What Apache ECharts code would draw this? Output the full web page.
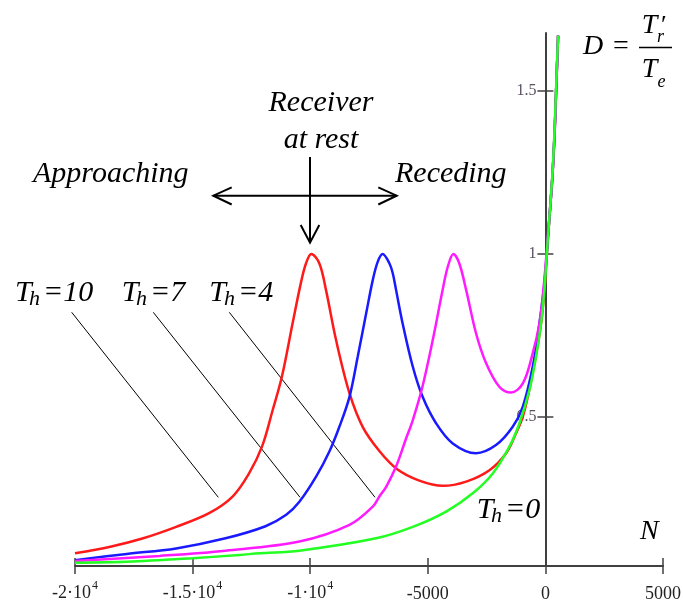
<!DOCTYPE html>
<html>
<head>
<meta charset="utf-8">
<script src="https://cdn.jsdelivr.net/npm/echarts@6.0.0/dist/echarts.min.js"></script>
<style>
html,body{margin:0;padding:0;background:#fff;}
#chart{width:683px;height:603px;}
</style>
</head>
<body>
<div id="chart"></div>
<script>
// ---- data ----
const xTickValues = [-20000, -15000, -10000, -5000, 0, 5000];
const xTickMantissa = ['-2\u00b710', '-1.5\u00b710', '-1\u00b710', '-5000', '0', '5000'];
const xTickExponent = ['4', '4', '4', '', '', ''];
const yTickValues = [0.5, 1, 1.5];

// Th = 10 (red)
const redN = [-20000,-18500,-17100,-15700,-14300,-13300,-12600,-12050,-11600,-11200,-10750,-10400,-10180,-9950,-9610,-9330,-8900,-8330,-7770,-7060,-6300,-5360,-4370,-3370,-2380,-1670,-1250,-960,-680,-400,-180,-40,100,290,390,460,540];
const redD = [0.082,0.102,0.128,0.163,0.205,0.256,0.327,0.409,0.520,0.625,0.787,0.910,0.971,1.000,0.971,0.890,0.736,0.573,0.470,0.396,0.340,0.305,0.289,0.302,0.337,0.389,0.450,0.501,0.585,0.690,0.790,0.890,1.040,1.230,1.370,1.510,1.670];
// Th = 7 (blue)
const blueN = [-20000,-17800,-15700,-13600,-11900,-11020,-10460,-9750,-9180,-8760,-8330,-7980,-7620,-7340,-7130,-6920,-6630,-6490,-6350,-6070,-5640,-5220,-4650,-3940,-2950,-2100,-1390,-960,-540,-255,-43,100,290,390,460,540];
const blueD = [0.061,0.080,0.097,0.128,0.165,0.200,0.240,0.317,0.395,0.470,0.562,0.685,0.818,0.920,0.976,1.000,0.971,0.941,0.890,0.787,0.655,0.562,0.481,0.419,0.389,0.414,0.470,0.532,0.654,0.787,0.910,1.045,1.230,1.370,1.510,1.670];
// Th = 4 (magenta)
const magN = [-20000,-16400,-13600,-10460,-8330,-7340,-7060,-6770,-6350,-5920,-5640,-5220,-4790,-4370,-4150,-3910,-3660,-3370,-2950,-2520,-1960,-1460,-960,-540,-255,-72,100,290,390,460,540];
const magD = [0.058,0.074,0.090,0.118,0.169,0.225,0.256,0.286,0.348,0.435,0.490,0.595,0.736,0.890,0.961,1.000,0.971,0.890,0.757,0.665,0.593,0.575,0.603,0.695,0.787,0.900,1.050,1.230,1.370,1.510,1.670];
// Th = 0 (green)
const greenN = [-20000,-17800,-15000,-13000,-12160,-10460,-7200,-5640,-4220,-3090,-2240,-1530,-1105,-680,-400,-184,-43,100,285,383,454,540];
const greenD = [0.053,0.056,0.067,0.077,0.082,0.090,0.128,0.163,0.210,0.266,0.327,0.409,0.481,0.583,0.685,0.787,0.890,1.043,1.230,1.370,1.510,1.670];

const seriesDefs = [
  {name: 'Th=10', n: redN, d: redD, color: '#ff1a1a'},
  {name: 'Th=7', n: blueN, d: blueD, color: '#1a1aff'},
  {name: 'Th=4', n: magN, d: magD, color: '#ff1aff'},
  {name: 'Th=0', n: greenN, d: greenD, color: '#22ff22'}
];

const SERIF = '"Liberation Serif", "DejaVu Serif", serif';
const AX = '#404040';

const X_MIN = -20000, X_MAX = 5000;
const GRID = {left: 75, right: 20, top: 33, bottom: 37, containLabel: false, outerBoundsMode: 'none'};
const CHART_W = 683;
const plotW = CHART_W - GRID.left - GRID.right;
const yAxisShift = -plotW * (0 - X_MIN) / (X_MAX - X_MIN);

function xLabel(v) {
  const i = xTickValues.indexOf(v);
  if (i < 0) return '';
  if (xTickExponent[i]) return '{b|' + xTickMantissa[i] + '}{s|' + xTickExponent[i] + '}';
  return '{p|' + xTickMantissa[i] + '}';
}

function txt(text, x, y, size, opts) {
  opts = opts || {};
  return {
    type: 'text', silent: true,
    style: {
      text: text, x: x, y: y,
      fontSize: size, fontFamily: SERIF,
      fontStyle: opts.upright ? 'normal' : 'italic',
      fill: '#000',
      align: opts.align || 'left',
      verticalAlign: 'middle'
    }
  };
}
function seg(points, w) {
  return {type: 'polyline', silent: true, shape: {points: points}, style: {stroke: '#000', lineWidth: w, fill: null}};
}
function bl(b, size) { return b - 0.3375 * size; }

const graphics = [
  txt('Receiver', 321, bl(113, 30), 30, {align: 'center'}),
  txt('at rest', 321, bl(150, 30), 30, {align: 'center'}),
  txt('Approaching', 33, bl(184, 30), 30),
  txt('Receding', 395, bl(184, 30), 30),
  seg([[213.3, 195.7], [396.7, 195.7]], 2),
  seg([[231.7, 187.3], [213.3, 195.7], [231.7, 204.5]], 2),
  seg([[378.3, 187.3], [396.7, 195.7], [378.3, 204.5]], 2),
  seg([[310, 157], [310, 242.7]], 2),
  seg([[300.7, 225], [310, 242.7], [319.3, 225]], 2),
  seg([[71.7, 312.3], [218.3, 497.3]], 1),
  seg([[153.3, 312.3], [300, 497.3]], 1),
  seg([[229.3, 312.3], [375, 497.3]], 1),
  txt('T', 15, bl(303, 30), 30), txt('h', 29, bl(307, 22), 22), txt('=10', 43, bl(303, 30), 30),
  txt('T', 121.7, bl(303, 30), 30), txt('h', 136, bl(307, 22), 22), txt('=7', 150, bl(303, 30), 30),
  txt('T', 209.3, bl(303, 30), 30), txt('h', 224, bl(307, 22), 22), txt('=4', 238, bl(303, 30), 30),
  txt('T', 476.7, bl(520, 30), 30), txt('h', 491, bl(524, 22), 22), txt('=0', 505, bl(520, 30), 30),
  txt('N', 640, bl(541, 28), 28),
  txt('D', 583, bl(56, 28), 28),
  txt('=', 613, bl(56, 28), 28, {upright: true}),
  seg([[639, 47.5], [672, 47.5]], 1.5),
  txt('T', 641.7, bl(35.5, 28), 28),
  txt('\u2032', 661, bl(35.5, 28), 26, {upright: true}),
  txt('r', 657, bl(43, 18), 18),
  txt('T', 641.7, bl(79.5, 28), 28),
  txt('e', 657.6, bl(88.6, 18), 18)
];

const chart = echarts.init(document.getElementById('chart'), null, {renderer: 'canvas'});
const axisCommonX = {
  type: 'value', min: X_MIN, max: X_MAX, interval: 5000, position: 'bottom',
  splitLine: {show: false}
};
const axisCommonY = {
  type: 'value', min: 0.043, max: 1.678, position: 'left', offset: yAxisShift,
  splitLine: {show: false}
};
chart.setOption({
  animation: false,
  backgroundColor: '#ffffff',
  grid: GRID,
  xAxis: [
    Object.assign({}, axisCommonX, {
      axisLine: {show: true, onZero: false, lineStyle: {color: AX, width: 2}},
      axisTick: {show: true, inside: false, length: 8, lineStyle: {color: AX, width: 1.5}},
      axisLabel: {
        show: true, margin: 14, color: '#222', fontFamily: SERIF, fontSize: 18,
        formatter: xLabel,
        rich: {
          b: {fontSize: 18, fontFamily: SERIF, color: '#222', lineHeight: 22, verticalAlign: 'bottom'},
          s: {fontSize: 12, fontFamily: SERIF, color: '#222', lineHeight: 12, padding: [0, 0, 16, 1], verticalAlign: 'top'},
          p: {fontSize: 18, fontFamily: SERIF, color: '#222', lineHeight: 22, padding: [6, 0, 0, 0]}
        }
      }
    }),
    Object.assign({}, axisCommonX, {
      axisLine: {show: false, onZero: false},
      axisTick: {show: true, inside: true, length: 8, lineStyle: {color: AX, width: 1.5}},
      axisLabel: {show: false}
    })
  ],
  yAxis: [
    Object.assign({}, axisCommonY, {
      axisLine: {show: true, onZero: false, lineStyle: {color: AX, width: 2}},
      axisTick: {show: true, inside: false, length: 8, customValues: yTickValues, lineStyle: {color: AX, width: 1.5}},
      axisLabel: {
        show: true, margin: 9, customValues: yTickValues, color: '#5a5060',
        fontFamily: SERIF, fontSize: 16,
        formatter: function (v) { return String(v); }
      }
    }),
    Object.assign({}, axisCommonY, {
      axisLine: {show: false, onZero: false},
      axisTick: {show: true, inside: true, length: 8, customValues: yTickValues, lineStyle: {color: AX, width: 1.5}},
      axisLabel: {show: false}
    })
  ],
  series: seriesDefs.map(function (s) {
    return {
      name: s.name, type: 'line', xAxisIndex: 0, yAxisIndex: 0,
      data: s.n.map(function (n, i) { return [n, s.d[i]]; }),
      showSymbol: false, symbol: 'none', smooth: 0.35, clip: true,
      lineStyle: {color: s.color, width: 2.5},
      silent: true
    };
  }),
  graphic: graphics
});
</script>
</body>
</html>
